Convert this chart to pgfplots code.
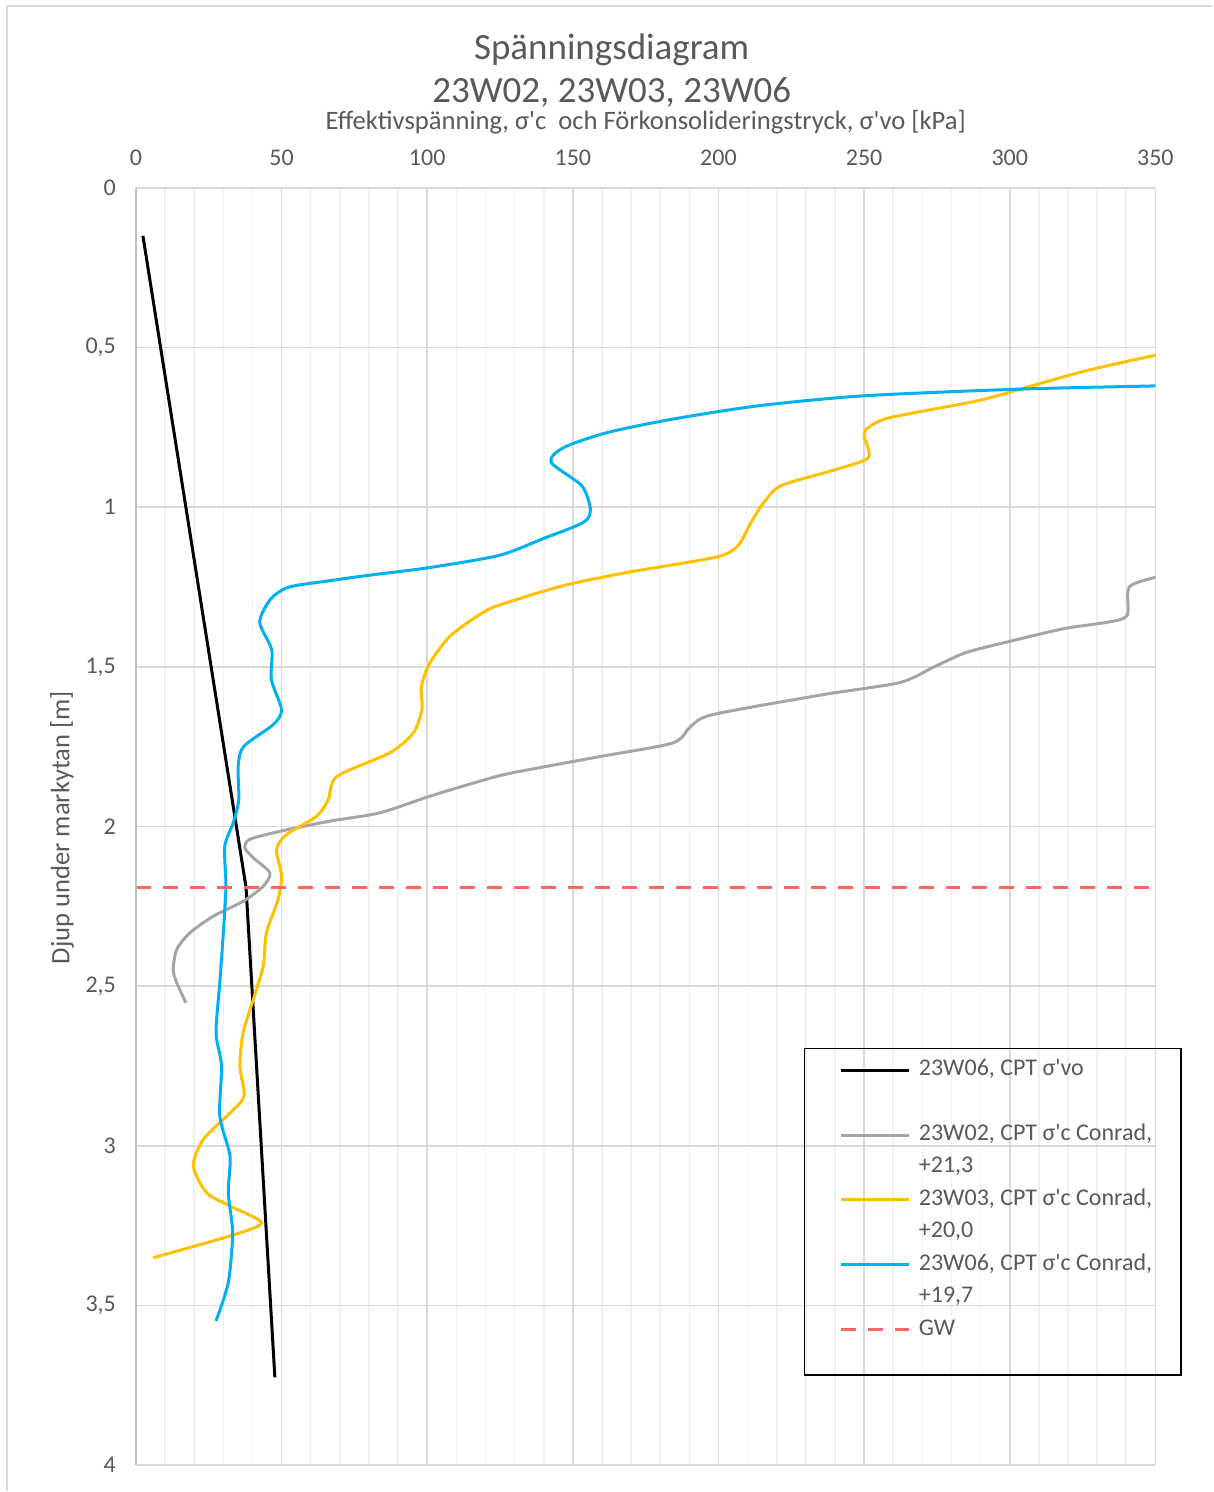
\documentclass[border=0pt]{standalone}
\usepackage{fontspec}
\setmainfont{Carlito}
\usepackage{pgfplots}
\pgfplotsset{compat=1.18}
\definecolor{txt}{HTML}{595959}
\definecolor{gmaj}{HTML}{D9D9D9}
\definecolor{gmin}{HTML}{F0F0F0}
\definecolor{cgray}{HTML}{A5A5A5}
\definecolor{cyel}{HTML}{FFC000}
\definecolor{cblue}{HTML}{00B0F0}
\definecolor{cred}{HTML}{FF6464}
\newcommand\q{\textquotesingle}
\begin{document}
\begin{tikzpicture}
\begin{axis}[
  at={(0,0)}, anchor=south west,
  scale only axis, width=510pt, height=639pt,
  xmin=0, xmax=350, ymin=0, ymax=4, y dir=reverse,
  xtick={0,50,...,350}, minor x tick num=4,
  ytick={0,0.5,1,1.5,2,2.5,3,3.5,4},
  xticklabel pos=upper,
  grid=both,
  major grid style={color=gmaj, line width=0.8pt},
  minor grid style={color=gmin, line width=0.8pt},
  axis line style={draw=none},
  major tick length=0pt, minor tick length=0pt,
  tick style={draw=none},
  ticklabel style={font=\fontsize{12}{14}\selectfont, text=txt},
  /pgf/number format/assume math mode=true,
  /pgf/number format/use comma,
  xticklabel style={yshift=7.7pt},
  yticklabel style={xshift=-6.5pt},
  clip=true,
  legend cell align=left,
  legend style={at={(axis description cs:0.6902,0.3224)}, anchor=north west,
    draw=none, fill=none, inner sep=0pt, column sep=4pt, row sep=0pt,
    nodes={inner sep=0pt, text height=10.75pt, text depth=5.5pt,
      font=\fontsize{12}{14.5}\selectfont, text=txt}},
  legend image code/.code={\draw[#1] (0pt,0pt) -- (34pt,0pt);},
]
\addplot[black, line width=1.5pt] table {
x y
2.4 0.15
37.8 2.19
47.7 3.725
};
\addlegendentry{23W06, CPT σ\q vo}
\addlegendimage{empty legend}
\addlegendentry{\mbox{}}

\addplot[cgray, line width=1.5pt, smooth, tension=0.45] table {
x y
352 1.212
350 1.219
341 1.25
340.3 1.339
333.6 1.36
318.7 1.38
300 1.42
285 1.455
274 1.5
262.3 1.549
236.5 1.586
198.2 1.649
190.5 1.686
184.4 1.738
159.8 1.78
129.1 1.832
118 1.858
100.9 1.905
83.7 1.957
66.6 1.983
49.4 2.015
39.1 2.04
37.4 2.067
40.3 2.098
46 2.145
43.7 2.187
36.8 2.234
26.5 2.281
18.5 2.333
14 2.385
12.8 2.448
14 2.489
17.2 2.552
};
\addlegendentry{23W02, CPT σ\q c Conrad,}
\addlegendimage{empty legend}
\addlegendentry{+21,3}

\addplot[cyel, line width=1.5pt, smooth, tension=0.45] table {
x y
354 0.518
350 0.524
326 0.573
303.7 0.630
288.8 0.667
259 0.719
251.5 0.75
250 0.776
251.5 0.844
241 0.880
221.6 0.932
215.7 0.984
211.2 1.047
206.7 1.12
199.3 1.156
169.4 1.203
147 1.245
124.6 1.307
118 1.336
107.8 1.404
100.9 1.488
98 1.561
98.2 1.634
95.2 1.707
87.2 1.769
69 1.843
66 1.916
62 1.968
51.7 2.025
48.3 2.072
50 2.155
48.8 2.228
44.8 2.333
43.7 2.437
40.3 2.541
36.8 2.646
35.7 2.75
37.1 2.844
32.3 2.897
23.1 2.98
19.7 3.063
24.3 3.147
32.3 3.188
43.1 3.241
32.3 3.282
5.9 3.35
};
\addlegendentry{23W03, CPT σ\q c Conrad,}
\addlegendimage{empty legend}
\addlegendentry{+20,0}

\addplot[cblue, line width=1.5pt, smooth, tension=0.45] table {
x y
354 0.619
350 0.62
303.7 0.630
250 0.651
214 0.682
184.3 0.724
161.9 0.766
147 0.8125
142.5 0.859
153 0.932
156 1.005
153.7 1.047
139.6 1.099
124.6 1.151
100 1.19
80 1.213
65 1.232
52.5 1.25
46.3 1.287
42.5 1.36
46.6 1.446
46.5 1.54
50 1.634
47.1 1.681
37 1.749
35.1 1.811
35.3 1.916
33.4 1.988
30.5 2.062
30.9 2.187
30 2.333
28.8 2.489
27.5 2.646
29.4 2.75
28.8 2.907
32.3 3.032
31.7 3.147
33.2 3.272
31.7 3.428
27.5 3.548
};
\addlegendentry{23W06, CPT σ\q c Conrad,}
\addlegendimage{empty legend}
\addlegendentry{+19,7}

\addplot[cred, line width=1.5pt, dash pattern=on 7.5pt off 6pt] table {
x y
0 2.19
350 2.19
};
\addlegendentry{GW}
\end{axis}
\begin{scope}[x=0.5pt, y=-0.5pt, shift={(-68pt,733pt)}]
  \path (0,0) rectangle (1213,1492);
  \draw[gmaj, line width=0.8pt] (7,1492) -- (7,6) -- (1213,6);
  \draw[color={rgb,255:red,191;green,191;blue,191}, line width=0.9pt] (136,188) -- (136,1466);
  \draw[black, line width=0.9pt] (805,1049) rectangle (1182,1376);
  \node[inner sep=0pt, font=\fontsize{18.5}{22}\selectfont, text=txt] at (612,50) {Spänningsdiagram};
  \node[inner sep=0pt, font=\fontsize{18.5}{22}\selectfont, text=txt] at (612,92) {23W02, 23W03, 23W06};
  \node[inner sep=0pt, font=\fontsize{13.3}{16}\selectfont, text=txt] at (646,122) {Effektivspänning, σ\q c\ \ och Förkonsolideringstryck, σ\q vo [kPa]};
  \node[inner sep=0pt, font=\fontsize{13.3}{16}\selectfont, text=txt, rotate=90] at (62,828) {Djup under markytan [m]};
\end{scope}
\end{tikzpicture}
\end{document}
